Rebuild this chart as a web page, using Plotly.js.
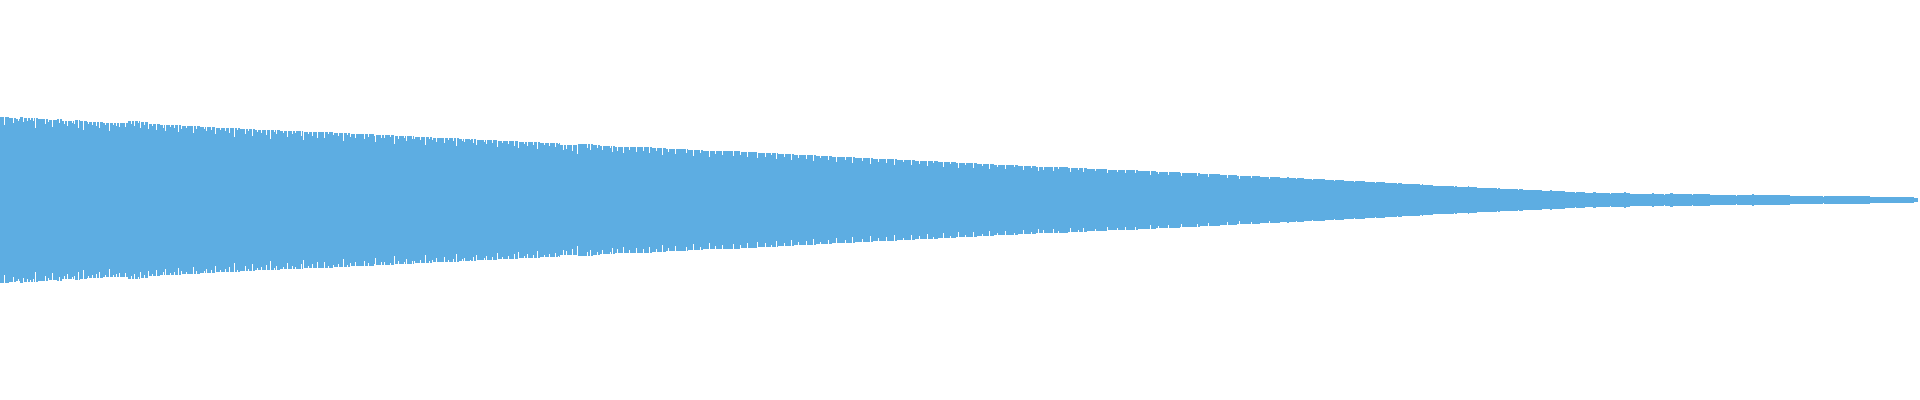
<!DOCTYPE html>
<html>
<head>
<meta charset="utf-8">
<script src="https://cdn.plot.ly/plotly-3.0.1.min.js"></script>
<style>
  html, body { margin: 0; padding: 0; background: #fff; }
  #plot { width: 1920px; height: 400px; }
</style>
</head>
<body>
<div id="plot"></div>
<script>
// peak level per sample column (full scale = 200)
const peaks = [
  83,83,83,83,75,83,83,83,83,82,82,82,82,77,82,82,81,81,79,81,83,83,83,78,82,82,82,79,82,82,80,82,82,79,82,72,82,82,81,81,
  81,81,81,81,81,76,81,81,78,80,80,80,73,80,80,80,80,81,81,77,81,81,79,79,76,79,79,74,79,79,79,79,77,79,76,80,80,80,72,80,
  79,79,79,70,79,79,79,78,76,78,78,78,75,78,78,78,74,78,78,72,78,78,78,77,77,75,77,77,77,69,77,77,77,75,77,77,74,77,77,73,
  77,77,77,77,77,73,77,77,79,79,79,76,79,79,74,79,79,79,77,79,72,78,78,78,75,78,78,78,71,76,76,76,74,76,76,76,70,76,76,76,
  75,75,75,72,75,69,75,75,75,75,73,75,75,75,72,75,75,75,68,75,75,71,74,74,74,74,72,74,74,74,74,74,74,67,74,74,71,74,74,74,
  73,73,73,73,71,73,69,73,73,73,73,70,73,73,73,66,72,72,72,72,70,72,72,72,72,69,72,72,72,67,72,72,72,72,63,72,72,70,72,72,
  71,71,71,71,71,66,71,71,69,71,71,71,64,71,71,70,70,68,70,70,70,67,70,70,70,70,65,70,70,70,61,70,70,70,68,70,66,70,70,70,
  69,69,69,67,69,69,69,63,69,69,69,69,66,69,69,67,69,69,69,69,69,64,69,60,68,68,68,68,66,68,68,68,64,68,68,68,68,62,68,68,
  68,68,68,68,62,68,68,68,66,68,68,68,68,65,67,67,67,67,64,67,67,67,67,59,67,67,67,65,67,67,63,66,66,66,66,62,66,66,66,66,
  66,66,66,66,61,66,66,66,63,66,66,66,66,66,64,58,65,65,65,65,65,62,65,65,62,65,65,65,65,65,63,65,65,65,56,64,64,64,61,64,
  64,64,64,64,62,64,59,64,64,64,64,64,61,64,61,63,63,63,63,63,60,63,63,63,63,55,63,63,63,61,63,63,60,62,62,62,58,62,62,62,
  62,62,62,62,57,62,62,62,60,62,62,62,62,59,62,62,54,62,62,61,61,61,59,61,58,61,61,61,61,61,60,61,61,57,61,61,55,60,60,60,
  60,60,60,60,58,60,56,60,60,60,60,60,57,60,60,60,60,53,59,59,59,59,57,59,59,59,59,59,56,59,59,59,59,59,54,59,59,59,52,58,
  58,58,58,58,56,58,58,54,58,58,58,58,58,55,58,58,58,51,58,58,57,57,57,57,55,57,57,57,57,54,57,57,57,57,57,53,57,57,56,57,
  55,55,55,50,55,55,51,55,55,55,55,55,49,55,55,55,55,46,56,56,56,56,56,56,56,56,56,52,56,56,50,56,56,55,55,55,55,52,55,55,
  54,54,50,54,54,54,54,54,54,54,52,54,48,54,54,53,53,49,53,53,53,53,53,47,53,53,53,53,53,50,53,53,53,53,53,53,48,53,53,53,
  53,53,53,49,53,53,53,53,53,47,53,53,52,52,52,52,49,52,52,52,52,52,45,52,52,52,51,51,48,51,51,51,51,51,51,46,51,51,51,51,
  51,51,51,51,51,51,47,51,50,50,50,50,50,44,50,50,50,50,50,50,47,50,50,49,49,49,49,49,49,43,49,49,49,49,49,46,49,49,49,49,
  49,49,45,49,49,49,49,49,49,49,49,49,49,44,49,49,49,49,49,49,45,48,48,48,48,48,48,43,48,48,48,48,48,48,48,48,48,42,47,47,
  47,47,47,47,47,43,47,47,47,47,47,45,47,47,47,47,41,47,46,46,46,46,46,46,43,46,46,46,46,46,46,40,46,46,45,45,45,45,42,45,
  45,45,45,45,45,45,41,45,45,45,45,45,45,39,45,45,44,44,44,44,42,44,44,44,44,44,44,44,40,44,44,44,43,43,43,43,38,43,43,43,
  43,43,43,43,43,40,43,43,43,43,43,43,37,43,43,42,42,42,42,42,42,42,39,42,42,42,42,42,42,42,36,42,42,41,41,41,41,41,38,41,
  41,41,41,41,41,41,37,41,41,41,41,41,41,41,35,41,41,40,40,40,40,40,40,38,40,40,40,40,40,40,40,35,40,40,40,39,39,39,39,36,
  39,39,39,39,39,39,39,34,39,39,39,39,39,37,39,39,39,39,38,38,38,38,38,33,38,38,38,38,38,38,36,38,38,38,38,38,37,37,32,37,
  37,37,37,37,37,35,37,37,37,37,37,37,37,32,37,37,37,36,36,36,36,36,34,36,36,36,36,36,36,31,36,36,36,36,35,35,35,33,35,35,
  35,35,35,35,35,31,35,35,35,35,35,35,35,35,33,35,35,35,34,34,34,34,34,30,34,34,34,34,34,34,34,32,34,34,34,34,33,33,29,33,
  33,33,33,30,33,33,33,33,33,33,33,33,33,29,33,33,33,33,31,33,33,33,33,33,33,33,33,33,32,32,28,32,32,32,32,32,32,32,30,32,
  32,32,32,28,32,32,32,31,31,31,31,31,31,31,31,29,31,31,31,31,31,31,31,31,31,31,31,27,30,30,30,30,30,30,30,30,30,28,30,30,
  30,30,30,30,30,27,30,30,30,30,30,30,30,30,30,27,30,30,29,29,29,29,29,29,29,29,29,29,29,29,25,29,29,29,29,29,28,28,26,28,
  28,28,28,28,28,28,28,28,25,28,28,28,28,28,28,28,28,28,28,28,27,24,27,27,27,27,27,27,27,27,27,27,27,27,27,27,27,24,27,27,
  26,26,26,26,26,26,26,26,23,26,26,26,26,26,26,26,26,26,26,26,25,25,25,25,25,25,25,22,25,25,25,25,25,25,25,25,25,24,24,21,
  24,24,24,24,24,24,24,24,24,24,24,22,24,24,24,24,24,24,24,24,23,23,23,23,23,23,23,23,23,21,23,23,23,23,23,23,23,23,23,23,
  22,22,22,22,22,22,22,23,23,22,22,22,22,22,22,22,21,22,22,22,22,22,22,22,21,21,21,21,21,21,21,21,20,21,21,21,21,21,21,21,
  21,21,21,21,21,20,20,20,20,20,20,20,20,20,19,20,20,20,20,20,20,20,20,20,19,19,19,19,19,19,19,19,19,19,18,19,19,19,19,19,
  19,19,19,19,19,18,18,18,18,18,18,18,18,18,18,17,18,18,18,18,18,18,18,18,18,17,17,17,17,17,17,17,17,17,17,17,17,16,17,17,
  17,17,16,16,16,16,16,16,16,16,16,16,16,16,16,16,16,16,16,16,15,15,16,15,15,15,15,15,15,15,15,15,15,14,14,14,14,14,14,14,
  14,14,14,14,14,14,14,14,14,14,14,14,14,14,13,14,14,13,13,13,13,13,13,13,13,13,13,13,14,13,13,13,13,13,13,13,13,12,12,12,
  12,12,12,12,12,12,12,12,12,12,12,12,12,12,12,12,12,11,12,12,11,11,11,11,11,11,11,11,11,11,11,11,11,11,11,11,11,11,10,11,
  11,11,11,10,10,10,10,10,10,10,10,10,10,10,10,10,10,10,10,10,10,10,9,9,9,9,9,9,9,9,10,10,9,9,9,9,9,9,9,9,
  9,9,9,9,9,8,8,8,8,8,8,8,8,8,8,7,8,8,8,8,8,8,8,8,8,7,7,7,7,7,7,7,7,8,8,8,7,7,7,7,
  7,7,7,7,7,7,7,7,7,7,6,7,7,7,7,7,7,7,7,7,7,7,7,7,8,8,7,7,7,7,6,6,6,6,6,6,6,6,6,6,
  6,6,6,6,6,6,6,6,6,6,6,6,7,7,6,6,6,6,6,6,6,6,6,6,5,6,6,6,6,6,7,7,7,6,6,6,6,6,6,6,
  6,6,6,6,6,6,6,6,6,6,6,6,5,6,6,6,6,6,6,6,6,6,6,6,6,6,6,6,6,6,5,5,5,5,5,5,5,5,5,5,
  5,5,5,5,5,5,5,5,5,5,5,5,5,5,5,5,4,5,5,5,5,5,5,5,5,5,5,5,5,5,5,5,6,6,5,5,5,5,5,5,
  5,5,5,5,5,5,5,5,5,5,5,5,5,5,5,5,5,5,5,5,5,5,5,5,5,5,5,5,5,5,4,4,4,4,4,4,4,4,4,4,
  4,4,4,4,4,4,4,4,4,4,4,4,4,4,4,4,4,4,4,4,4,4,4,3,4,4,4,4,4,4,4,4,4,4,4,4,4,4,4,4,
  4,4,4,4,4,4,4,4,4,4,4,4,4,4,4,4,4,4,4,4,4,4,4,4,4,4,4,4,4,4,3,3,3,3,3,3,3,3,3,3,
  3,3,3,3,3,3,3,3,3,3,3,3,3,3,3,3,3,3,3,3,3,3,3,3,3,3,3,3,3,3,3,3,3,3,2,2,2,2,0,0
];

const fullScale = 200;
const waveColor = '#5DADE2';

const sampleIdx = peaks.map((v, i) => i);

const upper = {
    x: sampleIdx,
    y: peaks,
    type: 'bar',
    marker: { color: waveColor, line: { width: 0 } },
    hoverinfo: 'skip'
};

const lower = {
    x: sampleIdx,
    y: peaks.map(v => -v),
    type: 'bar',
    marker: { color: waveColor, line: { width: 0 } },
    hoverinfo: 'skip'
};

const layout = {
    width: 1920,
    height: 400,
    margin: { l: 0, r: 0, t: 0, b: 0 },
    paper_bgcolor: '#ffffff',
    plot_bgcolor: '#ffffff',
    barmode: 'relative',
    bargap: 0,
    showlegend: false,
    xaxis: { visible: false, range: [-0.5, 1919.5], fixedrange: true },
    yaxis: { visible: false, range: [-fullScale, fullScale], fixedrange: true }
};

Plotly.newPlot('plot', [upper, lower], layout, { displayModeBar: false, staticPlot: true });
</script>
</body>
</html>
